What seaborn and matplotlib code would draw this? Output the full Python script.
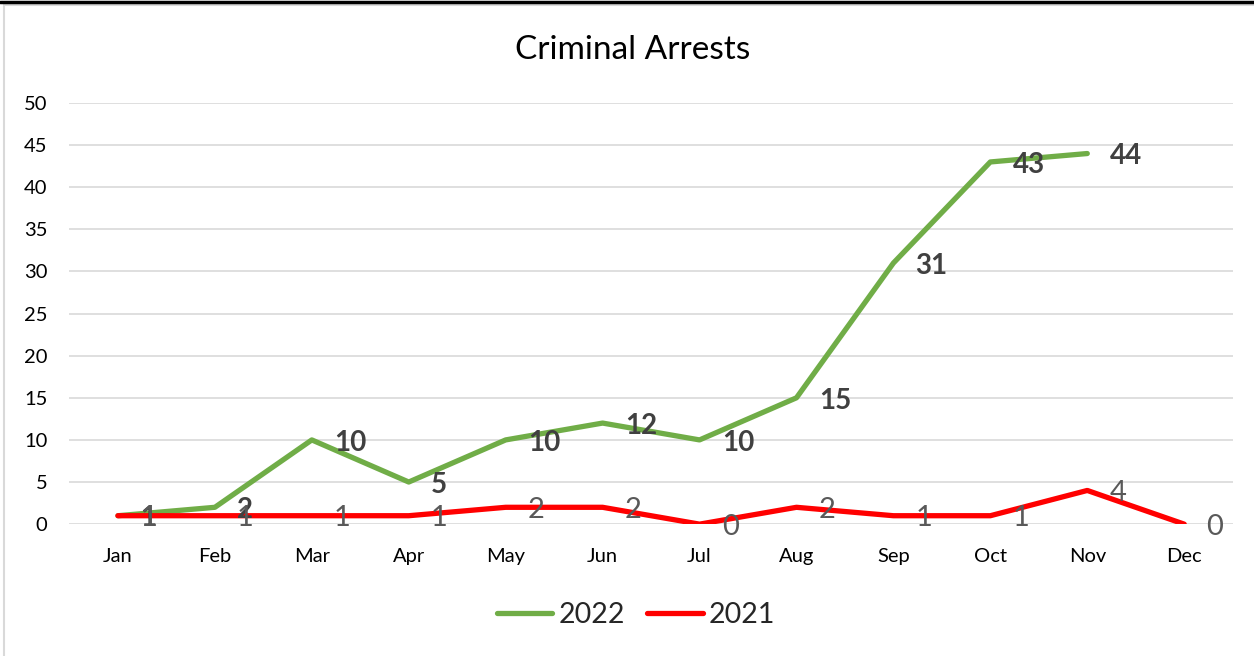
import numpy as np
import pandas as pd
import matplotlib
matplotlib.use("Agg")
import matplotlib.pyplot as plt
from matplotlib.lines import Line2D
from matplotlib.patches import Rectangle
from matplotlib.transforms import offset_copy
import seaborn as sns

months = ["Jan", "Feb", "Mar", "Apr", "May", "Jun", "Jul", "Aug", "Sep", "Oct", "Nov", "Dec"]
arrests_2022 = [1, 2, 10, 5, 10, 12, 10, 15, 31, 43, 44, np.nan]
arrests_2021 = [1, 1, 1, 1, 2, 2, 0, 2, 1, 1, 4, 0]
series_names = ["2022", "2021"]
series_colors = ["#70AD47", "#FF0000"]
title = "Criminal Arrests"
yticks = list(range(0, 55, 5))

sns.set_theme(style="white")
plt.rcParams["font.family"] = ["Lato", "DejaVu Sans"]

idx = np.arange(len(months))
df = pd.DataFrame({
    "month": np.concatenate([idx, idx]),
    "value": arrests_2022 + arrests_2021,
    "year": [series_names[0]] * len(months) + [series_names[1]] * len(months),
})

fig = plt.figure(figsize=(12.54, 6.56), dpi=100)
ax = fig.add_axes([0.0554, 0.201, 0.9276, 0.642])

sns.lineplot(data=df, x="month", y="value", hue="year", hue_order=series_names,
             palette=series_colors, linewidth=3.8, ax=ax, legend=False,
             solid_capstyle="round", solid_joinstyle="round")

ax.set_xlim(-0.5, len(months) - 0.5)
ax.set_ylim(0, 50)
ax.set_yticks(yticks)
ax.set_xticks(idx)
ax.set_xticklabels(months)
ax.set_xlabel("")
ax.set_ylabel("")
ax.tick_params(axis="both", length=0, labelsize=14.5, colors="black")
ax.tick_params(axis="x", pad=17)
ax.tick_params(axis="y", pad=16)
ax.yaxis.grid(True, color="#D9D9D9", linewidth=1.2)
ax.set_axisbelow(True)
for s in ax.spines.values():
    s.set_visible(False)
fig.text(633 / 1254, 1 - 50 / 656, title, fontsize=24, color="black",
         ha="center", va="center")

for i, v in enumerate(arrests_2022):
    if not np.isnan(v):
        tr = offset_copy(ax.transData, fig=fig, x=16, y=-2, units="points")
        ax.text(i, v, f"{int(v)}", transform=tr, fontsize=20, fontweight="bold",
                color="#404040", ha="left", va="center")
for i, v in enumerate(arrests_2021):
    tr = offset_copy(ax.transData, fig=fig, x=16, y=-2, units="points")
    ax.text(i, v, f"{int(v)}", transform=tr, fontsize=21,
            color="#595959", ha="left", va="center")

handles = [Line2D([0], [0], color=c, lw=3.8, solid_capstyle="round") for c in series_colors]
fig.legend(handles, series_names, loc="center", bbox_to_anchor=(636 / 1254, 1 - 615 / 656),
           ncol=2, frameon=False, fontsize=20.5, handlelength=1.95,
           handletextpad=0.2, columnspacing=0.8)

# chart frame
fig.patches.append(Rectangle((4 / 1254, -0.1), 1.2, 1 - 5 / 656 + 0.1,
                             transform=fig.transFigure, fill=False,
                             edgecolor="#D9D9D9", linewidth=1.5))
fig.lines.append(Line2D([0, 1], [1 - 1.5 / 656, 1 - 1.5 / 656], transform=fig.transFigure,
                        color="black", linewidth=2.5))

fig.savefig("out.png", dpi=100)
